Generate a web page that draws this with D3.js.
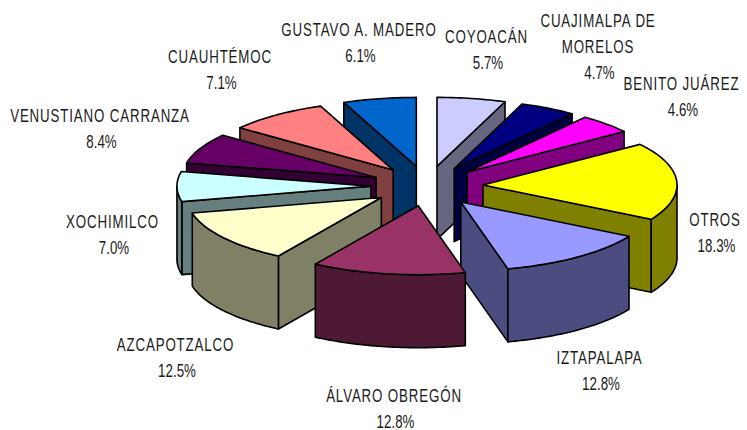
<!DOCTYPE html>
<html><head><meta charset="utf-8">
<script src="https://cdn.jsdelivr.net/npm/d3@7/dist/d3.min.js"></script>
<style>html,body{margin:0;padding:0;background:#fff}svg{display:block}</style>
</head><body><div id="chart"></div>
<script>
const categories = ["COYOACÁN","CUAJIMALPA DE\nMORELOS","BENITO JUÁREZ","OTROS","IZTAPALAPA","ÁLVARO OBREGÓN","AZCAPOTZALCO","XOCHIMILCO","VENUSTIANO CARRANZA","CUAUHTÉMOC","GUSTAVO A. MADERO"];
// printed percentages
const percentLabels = [5.7,4.7,4.6,18.3,12.8,12.8,12.5,7.0,8.4,7.1,6.1];
// slice sizes as drawn in the picture (the Venustiano and Cuauhtémoc wedges are drawn with each other's share)
const sliceValues = [5.7,4.7,4.6,18.3,12.8,12.8,12.5,7.0,7.1,8.4,6.1];
const topColors = ["#CCCCFF","#000080","#FF00FF","#FFFF00","#9999FF","#993366","#FFFFCC","#CCFFFF","#660066","#FF8080","#0066CC"];
const sideColors = ["#666680","#000040","#800080","#808000","#4C4C80","#4D1933","#808066","#668080","#330033","#804040","#003366"];
// centre x and first baseline of each label block
const labelX = [486.5,598,681.5,715,599.5,394,175.5,112.5,100,220,359];
const labelY = [43,27,90,226,364,402,351,228,122,63,36];

const W=747,H=430, cx=427, cy=186, Rx=194, Ry=69, explode=0.289, depth=73;
const svg=d3.select("#chart").append("svg").attr("width",W).attr("height",H);
const pie=d3.pie().sort(null).value(d=>d.value);
const arcs=pie(sliceValues.map((value,i)=>({value,i})));
const xS=a=>Math.sin(a), yS=a=>-Math.cos(a);
const line=d3.line();
arcs.forEach(d=>{
  const mid=(d.startAngle+d.endAngle)/2;
  d.mid=mid;
  d.ox=cx+explode*Rx*xS(mid);
  d.oy=cy+explode*Ry*yS(mid);
});
const pt=(d,a,dz=0)=>[d.ox+Rx*xS(a), d.oy+Ry*yS(a)+dz];
const samples=(a0,a1)=>{const n=Math.max(2,Math.ceil((a1-a0)/0.02));return d3.range(n+1).map(k=>a0+(a1-a0)*k/n);};
const draw=(pts,fill)=>svg.append("path").attr("d",line(pts)+"Z").attr("fill",fill)
  .attr("stroke","#000").attr("stroke-width",1.6).attr("stroke-linejoin","round");

arcs.slice().sort((a,b)=>Math.cos(b.mid)-Math.cos(a.mid)).forEach(d=>{
  const side=sideColors[d.data.i], top=topColors[d.data.i];
  const apex=[d.ox,d.oy], apexB=[d.ox,d.oy+depth];
  // radial walls that face the viewer
  if(d.startAngle>=Math.PI-1e-6){const p=pt(d,d.startAngle),q=pt(d,d.startAngle,depth);draw([apex,p,q,apexB],side);}
  if(d.endAngle<=Math.PI+1e-6){const p=pt(d,d.endAngle),q=pt(d,d.endAngle,depth);draw([apex,p,q,apexB],side);}
  // curved outer wall on the front half
  const a0=Math.max(d.startAngle,Math.PI/2), a1=Math.min(d.endAngle,3*Math.PI/2);
  if(a1>a0){
    const s=samples(a0,a1);
    draw(s.map(a=>pt(d,a)).concat(s.slice().reverse().map(a=>pt(d,a,depth))),side);
  }
  // top face
  draw([apex].concat(samples(d.startAngle,d.endAngle).map(a=>pt(d,a))),top);
});

const fmt=d3.format(".1f"), squeeze=0.74, size=18, lh=25.5;
categories.forEach((c,i)=>{
  const names=c.split("\n");
  const put=(t,x,y,ls)=>svg.append("text").text(t)
      .attr("transform",`translate(${x},${y}) scale(${squeeze},1)`)
      .attr("text-anchor","middle").attr("font-family","'Liberation Sans',Arial,sans-serif")
      .attr("font-size",size).attr("letter-spacing",ls).attr("fill","#1a1a1a");
  names.forEach((t,k)=>put(t,labelX[i],labelY[i]+k*lh,1.15));
  put(fmt(percentLabels[i])+"%",labelX[i]+1.5,labelY[i]+names.length*lh+0.5,0);
});
</script></body></html>
